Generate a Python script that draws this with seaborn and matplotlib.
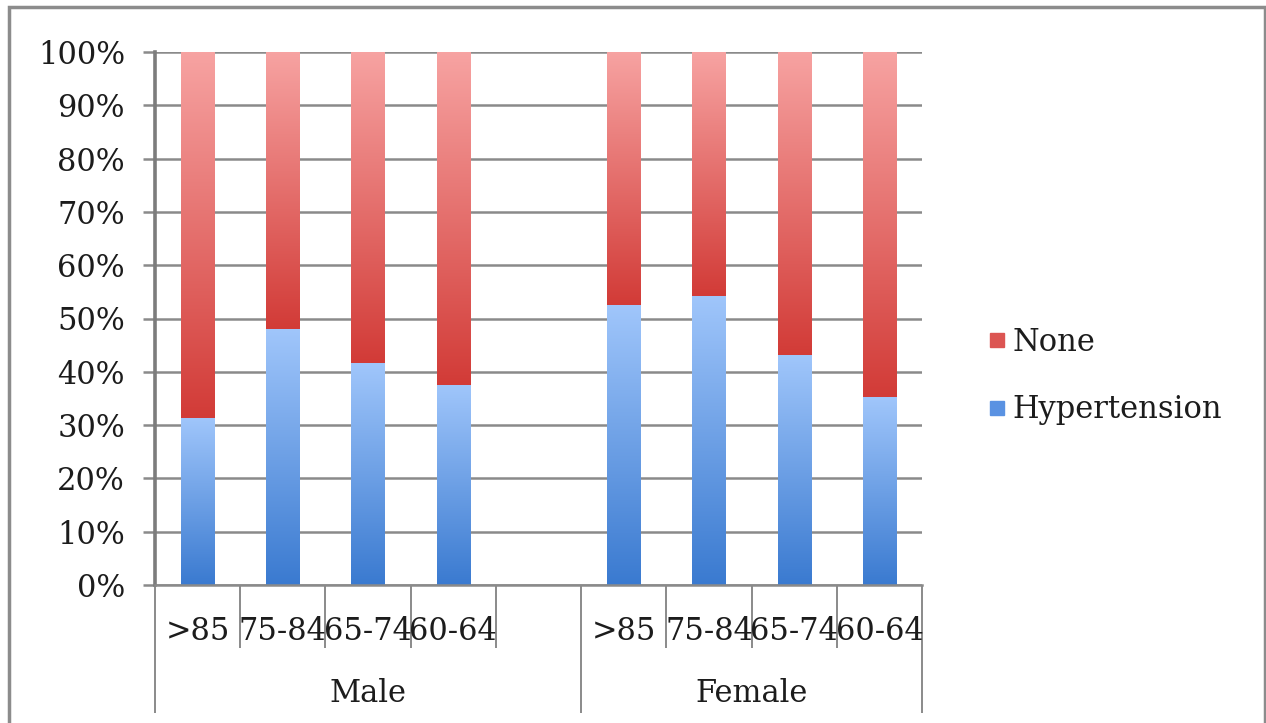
import numpy as np
import pandas as pd
import matplotlib
matplotlib.use("Agg")
import matplotlib.pyplot as plt
import matplotlib.transforms as mtransforms
from matplotlib.colors import LinearSegmentedColormap
from matplotlib.lines import Line2D
from matplotlib.patches import Rectangle
import seaborn as sns

# ---- data -------------------------------------------------------------
sexes = ["Male", "Female"]
age_bands = [">85", "75-84", "65-74", "60-64"]
hypertension = [31.4, 48.0, 41.6, 37.6, 52.5, 54.3, 43.1, 35.2]
no_condition = [68.6, 52.0, 58.4, 62.4, 47.5, 45.7, 56.9, 64.8]
y_ticks = [0, 10, 20, 30, 40, 50, 60, 70, 80, 90, 100]
y_tick_labels = [f"{t}%" for t in y_ticks]

# ---- styling ----------------------------------------------------------
RED_TOP, RED_BOTTOM = "#f7a3a2", "#d23b37"
BLUE_TOP, BLUE_BOTTOM = "#a0c6fb", "#3a7ad0"
GRID = "#8a8a8a"
TEXT = "#1c1c1c"
FS = 22

W, H = 1266, 723
sns.set_theme(style="white")
plt.rcParams["font.family"] = ["DejaVu Serif"]

fig = plt.figure(figsize=(W / 100, H / 100), dpi=100)
ax = fig.add_axes([155 / W, (H - 585) / H, 767 / W, 533 / H])

rows = []
for i, sex in enumerate(sexes):
    for j, age in enumerate(age_bands):
        k = i * len(age_bands) + j
        rows.append({"slot": f"{sex} {age}", "Hypertension": hypertension[k],
                     "None": no_condition[k]})
df = pd.DataFrame(rows)
df["total"] = df["Hypertension"] + df["None"]

order = [f"Male {a}" for a in age_bands] + ["(blank)"] + [f"Female {a}" for a in age_bands]

sns.barplot(data=df, x="slot", y="total", order=order, color=RED_BOTTOM,
            width=0.39, errorbar=None, ax=ax, linewidth=0)
n_red = len(ax.patches)
sns.barplot(data=df, x="slot", y="Hypertension", order=order, color=BLUE_BOTTOM,
            width=0.39, errorbar=None, ax=ax, linewidth=0)

red_bars = [p for p in ax.patches[:n_red] if np.isfinite(p.get_height()) and p.get_height() > 0]
blue_bars = [p for p in ax.patches[n_red:] if np.isfinite(p.get_height()) and p.get_height() > 0]


def gradient_fill(patch, top, bottom, z):
    x0, y0 = patch.get_x(), patch.get_y()
    w, h = patch.get_width(), patch.get_height()
    cmap = LinearSegmentedColormap.from_list("bar", [bottom, top])
    grad = np.linspace(0, 1, 256).reshape(-1, 1)
    im = ax.imshow(grad, cmap=cmap, extent=(x0, x0 + w, y0, y0 + h),
                   origin="lower", aspect="auto", interpolation="bilinear", zorder=z)
    im.set_clip_path(patch)
    patch.set_facecolor("none")


# the red segment sits on top of the blue one
for r, b in zip(red_bars, blue_bars):
    r.set_y(b.get_y() + b.get_height())
    r.set_height(r.get_height() - b.get_height())
    gradient_fill(r, RED_TOP, RED_BOTTOM, 2)
    gradient_fill(b, BLUE_TOP, BLUE_BOTTOM, 2)

ax.set_xlim(-0.5, len(order) - 0.5)
ax.set_ylim(0, 100)
ax.set_xlabel("")
ax.set_ylabel("")

# axes, grid and ticks
ax.set_axisbelow(True)
ax.yaxis.grid(True, color=GRID, lw=1.8)
ax.xaxis.grid(False)
for s in ["top", "right"]:
    ax.spines[s].set_visible(False)
ax.spines["left"].set_color("#7c7c7c")
ax.spines["left"].set_linewidth(2.6)
ax.spines["bottom"].set_color(GRID)
ax.spines["bottom"].set_linewidth(1.8)
ax.set_yticks(y_ticks)
ax.set_yticklabels(y_tick_labels)
ax.tick_params(axis="y", left=True, length=8.6, width=1.8, color=GRID,
               labelsize=FS, labelcolor=TEXT, pad=13)
ax.tick_params(axis="x", bottom=False, labelbottom=False)

# two-level category axis
trans = mtransforms.blended_transform_factory(ax.transData, ax.transAxes)
inner_depth = -(648 - 585) / 533
outer_depth = -(713 - 585) / 533
group_edges = [-0.5, 4.5, len(order) - 0.5]
for k in range(len(order) + 1):
    x = k - 0.5
    depth = outer_depth if x in group_edges else inner_depth
    ax.plot([x, x], [0, depth], transform=trans, color=GRID, lw=1.4,
            clip_on=False, solid_capstyle="butt")

for k, slot in enumerate(order):
    if slot in df["slot"].values:
        ax.text(k, -(632 - 585) / 533, slot.split(" ", 1)[1], transform=trans,
                ha="center", va="center", fontsize=FS, color=TEXT)

ax.text(2.0, -(693 - 585) / 533, sexes[0], transform=trans, ha="center",
        va="center", fontsize=FS, color=TEXT)
ax.text(6.5, -(693 - 585) / 533, sexes[1], transform=trans, ha="center",
        va="center", fontsize=FS, color=TEXT)

# legend
handles = [
    Line2D([], [], marker="s", linestyle="none", markersize=10.5,
           markerfacecolor="#dc5552", markeredgecolor="#dc5552"),
    Line2D([], [], marker="s", linestyle="none", markersize=10.5,
           markerfacecolor="#5a92e2", markeredgecolor="#5a92e2"),
]
fig.legend(handles, ["None", "Hypertension"], loc="center left",
           bbox_to_anchor=(956 / W, 1 - 376 / H), frameon=False, fontsize=FS,
           labelspacing=1.2, handletextpad=0.05, handlelength=0.9,
           labelcolor=TEXT)

# outer chart frame
fig.add_artist(Rectangle((8.5 / W, -0.05), 1256 / W, 1 - 7.5 / H + 0.05,
                         transform=fig.transFigure, fill=False,
                         edgecolor="#8c8c8c", lw=2.5))

fig.savefig("out.png", dpi=100)
